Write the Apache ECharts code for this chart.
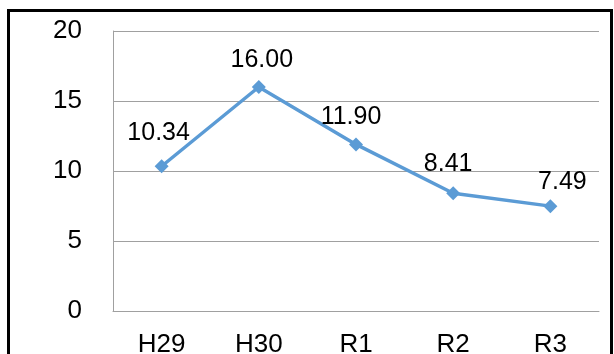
<!DOCTYPE html>
<html>
<head>
<meta charset="utf-8">
<script src="https://cdn.jsdelivr.net/npm/echarts@6/dist/echarts.min.js"></script>
<style>
  html, body { margin: 0; padding: 0; background: #fff; }
  #chart { width: 614px; height: 354px; }
</style>
</head>
<body>
<div id="chart"></div>
<script>
  // 年度ごとの値
  var categories = ['H29', 'H30', 'R1', 'R2', 'R3'];
  var values = [10.34, 16.00, 11.90, 8.41, 7.49];
  var yTicks = [0, 5, 10, 15, 20];

  // label nudges (px) so the labels sit like the original
  var labelOffsets = [[-3, -7], [3, 0], [-5, -1], [-5, -3], [12, 2]];

  var chart = echarts.init(document.getElementById('chart'));
  var option = {
    backgroundColor: '#fff',
    animation: false,
    textStyle: { fontFamily: 'Liberation Sans, Arial, sans-serif' },
    graphic: [{
      type: 'rect',
      shape: { x: 8.5, y: 10.5, width: 603, height: 400 },
      style: { fill: 'none', stroke: '#000', lineWidth: 3 },
      silent: true
    }],
    grid: { left: 113, right: 15, top: 31, bottom: 43, outerBoundsMode: 'none' },
    xAxis: {
      type: 'category',
      data: categories,
      boundaryGap: true,
      axisLine: { show: true, lineStyle: { color: '#a0a0a0', width: 1 } },
      axisTick: { show: false },
      axisLabel: { color: '#000', fontSize: 26, margin: 21 }
    },
    yAxis: {
      type: 'value',
      min: yTicks[0],
      max: yTicks[yTicks.length - 1],
      interval: 5,
      axisLine: { show: true, lineStyle: { color: '#a0a0a0', width: 1 } },
      axisTick: { show: false },
      axisLabel: { color: '#000', fontSize: 26, margin: 31 },
      splitLine: { lineStyle: { color: '#a0a0a0', width: 1 } }
    },
    series: [{
      type: 'line',
      data: values.map(function (v, i) {
        return { value: v, label: { offset: labelOffsets[i] } };
      }),
      symbol: 'diamond',
      symbolSize: 14,
      lineStyle: { color: '#5b9bd5', width: 3.5 },
      itemStyle: { color: '#5b9bd5' },
      label: {
        show: true,
        position: 'top',
        distance: 7,
        color: '#000',
        fontSize: 25,
        formatter: function (p) { return p.value.toFixed(2); }
      }
    }]
  };
  chart.setOption(option);
</script>
</body>
</html>
